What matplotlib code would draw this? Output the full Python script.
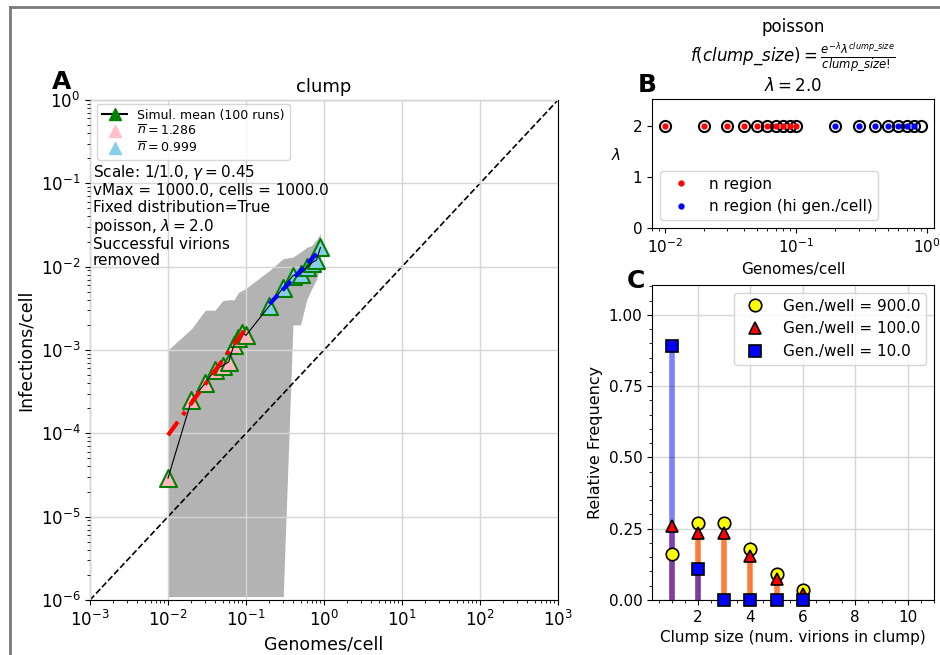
import numpy as np
import matplotlib
matplotlib.use("Agg")
import matplotlib.pyplot as plt
from matplotlib.lines import Line2D

# ---------------- data ----------------
genomes = [0.01, 0.02, 0.03, 0.04, 0.05, 0.06, 0.07, 0.08, 0.09, 0.1,
           0.2, 0.3, 0.4, 0.5, 0.6, 0.7, 0.8, 0.9]
sim_mean = [2.9e-5, 2.5e-4, 4.0e-4, 5.8e-4, 6.5e-4, 7.2e-4, 1.15e-3, 1.4e-3, 1.6e-3, 1.5e-3,
            3.4e-3, 5.6e-3, 7.8e-3, 8.2e-3, 9.8e-3, 1.12e-2, 1.2e-2, 1.7e-2]
band_low = [1.1e-6, 1.1e-6, 1.1e-6, 1.1e-6, 1.1e-6, 1.1e-6, 1.1e-6, 1.1e-6, 1.1e-6, 1.1e-6,
            1.1e-6, 1.1e-6, 2.0e-3, 2.0e-3, 4.0e-3, 5.5e-3, 7.0e-3, 1.0e-2]
band_high = [1.0e-3, 1.8e-3, 3.0e-3, 3.0e-3, 3.9e-3, 4.0e-3, 4.0e-3, 4.9e-3, 5.2e-3, 5.5e-3,
             9.0e-3, 1.25e-2, 1.3e-2, 1.5e-2, 1.7e-2, 1.8e-2, 2.1e-2, 2.5e-2]
n_region = [0.01, 0.02, 0.03, 0.04, 0.05, 0.06, 0.07, 0.08, 0.09, 0.1]
hi_region = [0.2, 0.3, 0.4, 0.5, 0.6, 0.7, 0.8]
fit_red_coef, fit_red_exp = 0.0354, 1.286
fit_blue_coef, fit_blue_exp = 0.0178, 0.999
lam_values = [2.0] * len(genomes)

clump_sizes = [1, 2, 3, 4, 5, 6]
freq_900 = [0.16, 0.27, 0.27, 0.18, 0.09, 0.035]
freq_100 = [0.26, 0.235, 0.235, 0.155, 0.075, 0.02]
freq_10 = [0.89, 0.11, 0.0, 0.0, 0.0, 0.0]

# ---------------- figure ----------------
fig = plt.figure(figsize=(9.4, 6.55), dpi=100)
W, H = 940, 655

def rect(l, t, r, b):
    return [l / W, 1 - b / H, (r - l) / W, (b - t) / H]

axA = fig.add_axes(rect(90, 100, 558, 600))
axB = fig.add_axes(rect(652, 99, 934, 228))
axC = fig.add_axes(rect(652, 285, 934, 600))

# ---------------- Panel A ----------------
axA.set_xscale('log')
axA.set_yscale('log')
axA.fill_between(genomes, band_low, band_high, color='#b3b3b3', lw=0, zorder=1)
axA.grid(True, which='major', color='#d6d6d6', lw=1.0, zorder=1.5)
axA.set_axisbelow(False)
xd = np.array([1e-3, 1e3])
axA.plot(xd, xd * 1e-3, 'k--', lw=1.2, zorder=2)

g = np.array(genomes)
m = np.array(sim_mean)
is_n = np.isin(g, n_region)
axA.scatter(g[is_n], m[is_n], marker='^', s=150, facecolors='#ffb6c1',
            edgecolors='green', linewidths=1.5, zorder=3)
axA.scatter(g[~is_n], m[~is_n], marker='^', s=150, facecolors='#87ceeb',
            edgecolors='green', linewidths=1.5, zorder=3)
axA.plot(g, m, 'k-', lw=0.8, zorder=4)

xr = np.array([min(n_region), max(n_region)])
axA.plot(xr, fit_red_coef * xr ** fit_red_exp, color='red', ls=(0, (4, 2, 1, 2)), lw=3, zorder=5)
xb = np.array([min(hi_region), max(genomes)])
axA.plot(xb, fit_blue_coef * xb ** fit_blue_exp, color='blue', ls=(0, (3, 1.5)), lw=3, zorder=5)

axA.set_xlim(1e-3, 1e3)
axA.set_ylim(1e-6, 1e0)
axA.set_xticks([1e-3, 1e-2, 1e-1, 1e0, 1e1, 1e2, 1e3])
axA.set_yticks([1e-6, 1e-5, 1e-4, 1e-3, 1e-2, 1e-1, 1e0])
axA.tick_params(labelsize=12)
axA.set_xlabel('Genomes/cell', fontsize=12.5)
axA.set_ylabel('Infections/cell', fontsize=12.5)
axA.set_title('clump', fontsize=13)

handles = [
    Line2D([], [], color='k', marker='^', mfc='green', mec='green', ms=8),
    Line2D([], [], ls='none', marker='^', color='pink', ms=8),
    Line2D([], [], ls='none', marker='^', color='skyblue', ms=8),
]
labels = ['Simul. mean (100 runs)', r'$\overline{n}=1.286$', r'$\overline{n}=0.999$']
axA.legend(handles, labels, loc='upper left', fontsize=9, labelspacing=0.2,
           borderaxespad=0.3, bbox_to_anchor=(0.008, 1.0))
axA.text(0.006, 0.874,
         'Scale: 1/1.0, $\\gamma=0.45$\nvMax = 1000.0, cells = 1000.0\nFixed distribution=True\n'
         'poisson, $\\lambda=2.0$\nSuccessful virions\nremoved',
         transform=axA.transAxes, va='top', ha='left', fontsize=11, linespacing=1.12)

# ---------------- Panel B ----------------
axB.set_xscale('log')
lam = np.array(lam_values)
axB.plot(g, lam, ls='none', marker='o', ms=8, mfc='none', mec='black', mew=1.5)
axB.plot(n_region, [lam_values[0]] * len(n_region), ls='none', marker='.', color='red',
         ms=7, label='n region')
axB.plot(hi_region, [lam_values[0]] * len(hi_region), ls='none', marker='.', color='blue',
         ms=7, label='n region (hi gen./cell)')
axB.set_ylim(0, 2.53)
axB.set_yticks([0, 1, 2])
axB.tick_params(labelsize=11)
axB.set_xlabel('Genomes/cell', fontsize=11)
axB.set_ylabel(r'$\lambda$', fontsize=11, rotation=0, labelpad=12)
axB.legend(loc='lower left', fontsize=11)
axB.set_title('poisson\n' r'$f(clump\_size)=\frac{e^{-\lambda}\lambda^{clump\_size}}{clump\_size!}$' '\n'
              r'$\lambda=2.0$', fontsize=12)

# ---------------- Panel C ----------------
cs = np.array(clump_sizes)
axC.vlines(cs, 0, freq_900, color='yellow', lw=4, alpha=0.5)
axC.vlines(cs, 0, freq_100, color='red', lw=4, alpha=0.5)
axC.vlines(cs, 0, freq_10, color='blue', lw=4, alpha=0.5)
axC.plot(cs, freq_900, ls='none', marker='o', ms=9, mfc='yellow', mec='black', mew=1.2,
         label='Gen./well = 900.0', clip_on=False, zorder=3)
axC.plot(cs, freq_100, ls='none', marker='^', ms=9, mfc='red', mec='black', mew=1.2,
         label='Gen./well = 100.0', clip_on=False, zorder=3)
axC.plot(cs, freq_10, ls='none', marker='s', ms=9, mfc='blue', mec='black', mew=1.2,
         label='Gen./well = 10.0', clip_on=False, zorder=3)
axC.set_xlim(0.25, 11)
axC.set_ylim(0, 1.105)
axC.set_yticks([0, 0.25, 0.5, 0.75, 1.0])
axC.set_xticks([2, 4, 6, 8, 10])
axC.minorticks_on()
axC.grid(True, which='major', color='#d6d6d6', lw=1.0)
axC.set_axisbelow(True)
axC.tick_params(labelsize=11)
axC.set_xlabel('Clump size (num. virions in clump)', fontsize=11)
axC.set_ylabel('Relative Frequency', fontsize=11.5)
axC.legend(loc='upper right', fontsize=11)

# ---------------- panel letters ----------------
fig.text(52 / W, 1 - 89 / H, 'A', fontsize=18, fontweight='bold')
fig.text(638 / W, 1 - 92 / H, 'B', fontsize=18, fontweight='bold')
fig.text(627 / W, 1 - 288 / H, 'C', fontsize=18, fontweight='bold')

# screenshot frame lines
fig.add_artist(Line2D([10 / W, 10 / W], [0, 1 - 7 / H], transform=fig.transFigure,
                      color='#7a7a7a', lw=2))
fig.add_artist(Line2D([10 / W, 1], [1 - 7 / H, 1 - 7 / H], transform=fig.transFigure,
                      color='#7a7a7a', lw=2))

fig.savefig('out.png', dpi=100)
